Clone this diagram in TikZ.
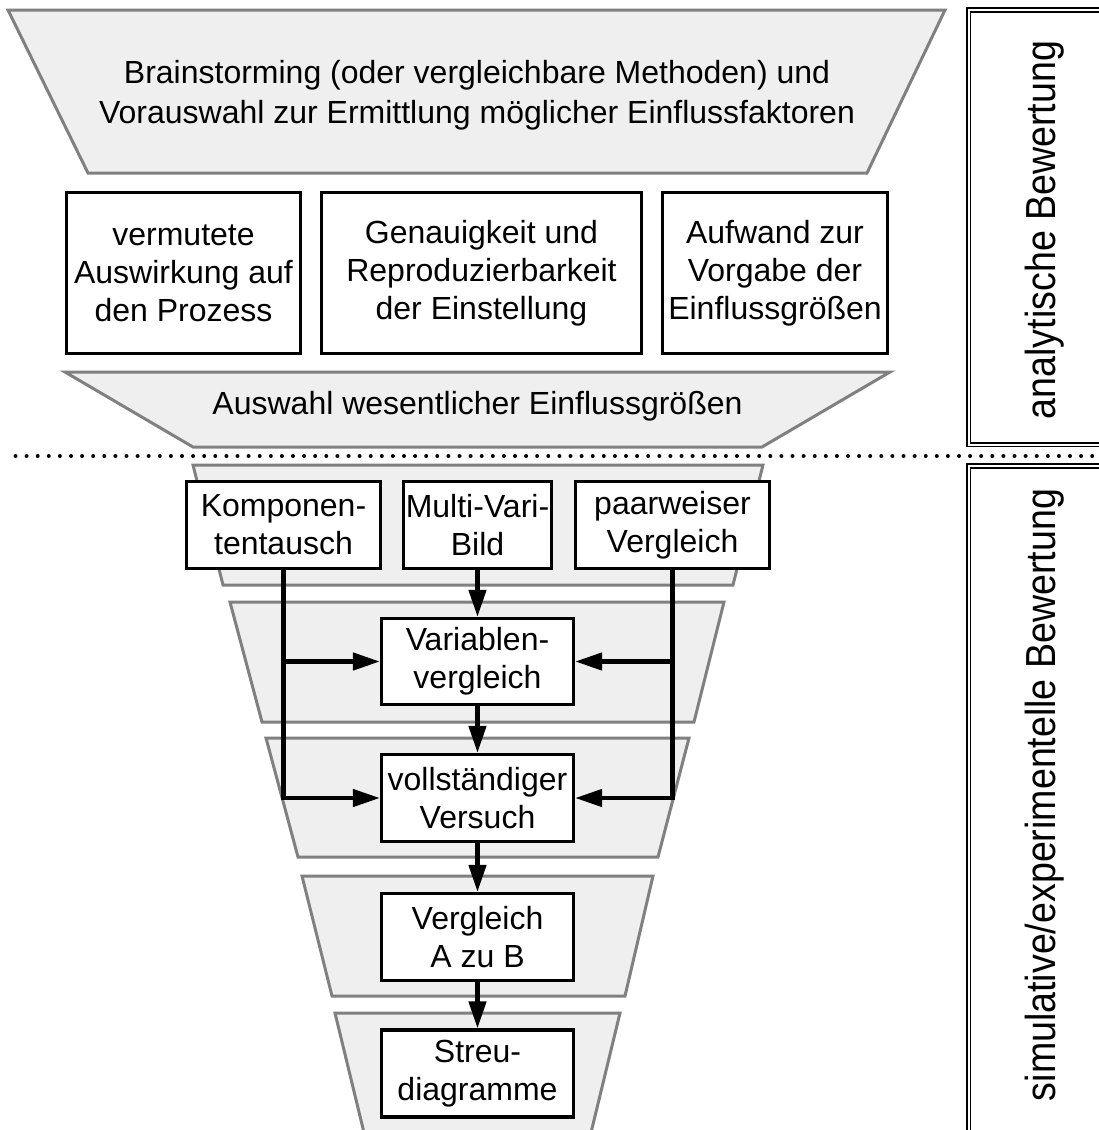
\documentclass[tikz,border=0pt]{standalone}
\usepackage{fontspec}
\setmainfont{Liberation Sans}
\newfontfamily\boxfont{Liberation Sans}
\newfontfamily\sidefont{Liberation Sans}[FakeStretch=0.895]
\usetikzlibrary{arrows.meta}

\definecolor{funnelfill}{RGB}{239,239,239}
\definecolor{funneledge}{RGB}{128,128,128}

\tikzset{
  funnel/.style={fill=funnelfill, draw=funneledge, line width=3pt, line join=miter},
  stepbox/.style={draw=black, fill=white, line width=3.2pt, inner sep=0pt, align=center,
    font=\boxfont\fontsize{32}{38}\selectfont},
  funneltext/.style={inner sep=0pt, align=center, font=\boxfont\fontsize{32}{40}\selectfont},
  sidetext/.style={inner sep=0pt, rotate=90, anchor=base, font=\sidefont\fontsize{42}{48}\selectfont},
  panel/.style={draw=black, double=white, line width=1.6pt, double distance=2pt},
  flow/.style={line width=4.5pt, -{Triangle[length=27pt,width=17pt]}},
  separator/.style={line width=4pt, line cap=round, dash pattern=on 0pt off 11.1pt}
}

\begin{document}
\begin{tikzpicture}[x=1pt, y=-1pt]
\clip (0,0) rectangle (1099,1130);
\fill[white] (0,0) rectangle (1099,1130);

% funnel stages of the analytical evaluation
\draw[funnel] (8,10) -- (945,10) -- (867,173) -- (88,173) -- cycle;
\draw[funnel] (65,372) -- (890,372) -- (762,447) -- (193,447) -- cycle;

% funnel stages of the simulative/experimental evaluation
\draw[funnel] (193,465) -- (763,465) -- (733,585) -- (223,585) -- cycle;
\draw[funnel] (230,602) -- (724,602) -- (694,722) -- (262,722) -- cycle;
\draw[funnel] (266,738) -- (689,738) -- (658,857) -- (298,857) -- cycle;
\draw[funnel] (302,876) -- (653,876) -- (625,996) -- (332,996) -- cycle;
\draw[funnel] (335,1013) -- (620,1013) -- (588,1145) -- (367,1145) -- cycle;

\node[funneltext] (brain) at (477,95)
  {Brainstorming (oder vergleichbare Methoden) und\\Vorauswahl zur Ermittlung möglicher Einflussfaktoren};
\node[funneltext] (select) at (477.5,406) {Auswahl wesentlicher Einflussgrößen};

% criteria
\node[stepbox, minimum width=234pt, minimum height=161pt] (effect) at (183.5,273)
  {vermutete\\Auswirkung auf\\den Prozess};
\node[stepbox, minimum width=320pt, minimum height=161pt] (accuracy) at (481.5,273)
  {Genauigkeit und\\Reproduzierbarkeit\\der Einstellung};
\node[stepbox, minimum width=225pt, minimum height=161pt] (effort) at (775,273)
  {Aufwand zur\\Vorgabe der\\Einflussgrößen};

% separator between the two phases
\coordinate (sepL) at (15.5,456);
\coordinate (sepR) at (1105,456);
\draw[separator] (sepL) -- (sepR);

% methods
\node[stepbox, minimum width=194pt, minimum height=87pt] (comp) at (283.5,525) {Komponen-\\tentausch};
\node[stepbox, minimum width=148pt, minimum height=87pt] (multi) at (477.5,525) {Multi-Vari-\\Bild};
\node[stepbox, minimum width=194pt, minimum height=87pt] (pair) at (672.5,525) {paarweiser\\Vergleich};
\node[stepbox, minimum width=192pt, minimum height=86pt] (var) at (477.5,661.5) {Variablen-\\vergleich};
\node[stepbox, minimum width=192pt, minimum height=87pt] (full) at (477.5,798) {vollständiger\\Versuch};
\node[stepbox, minimum width=192pt, minimum height=87pt] (ab) at (477.5,937) {Vergleich\\A zu B};
\node[stepbox, minimum width=192pt, minimum height=87pt] (scatter) at (477.5,1073.5) {Streu-\\diagramme};

\draw[flow] (comp.south) |- (var.west);
\draw[flow] (comp.south) |- (full.west);
\draw[flow] (pair.south) |- (var.east);
\draw[flow] (pair.south) |- (full.east);
\draw[flow] (multi) -- (var);
\draw[flow] (var) -- (full);
\draw[flow] (full) -- (ab);
\draw[flow] (ab) -- (scatter);

% phase labels
\draw[panel] (968.5,10) rectangle (1130,444.5);
\draw[panel] (968.5,466) rectangle (1130,1160);
\node[sidetext] (analytic) at (1055,230) {analytische Bewertung};
\node[sidetext] (experimental) at (1055,795) {simulative/experimentelle Bewertung};
\end{tikzpicture}
\end{document}
